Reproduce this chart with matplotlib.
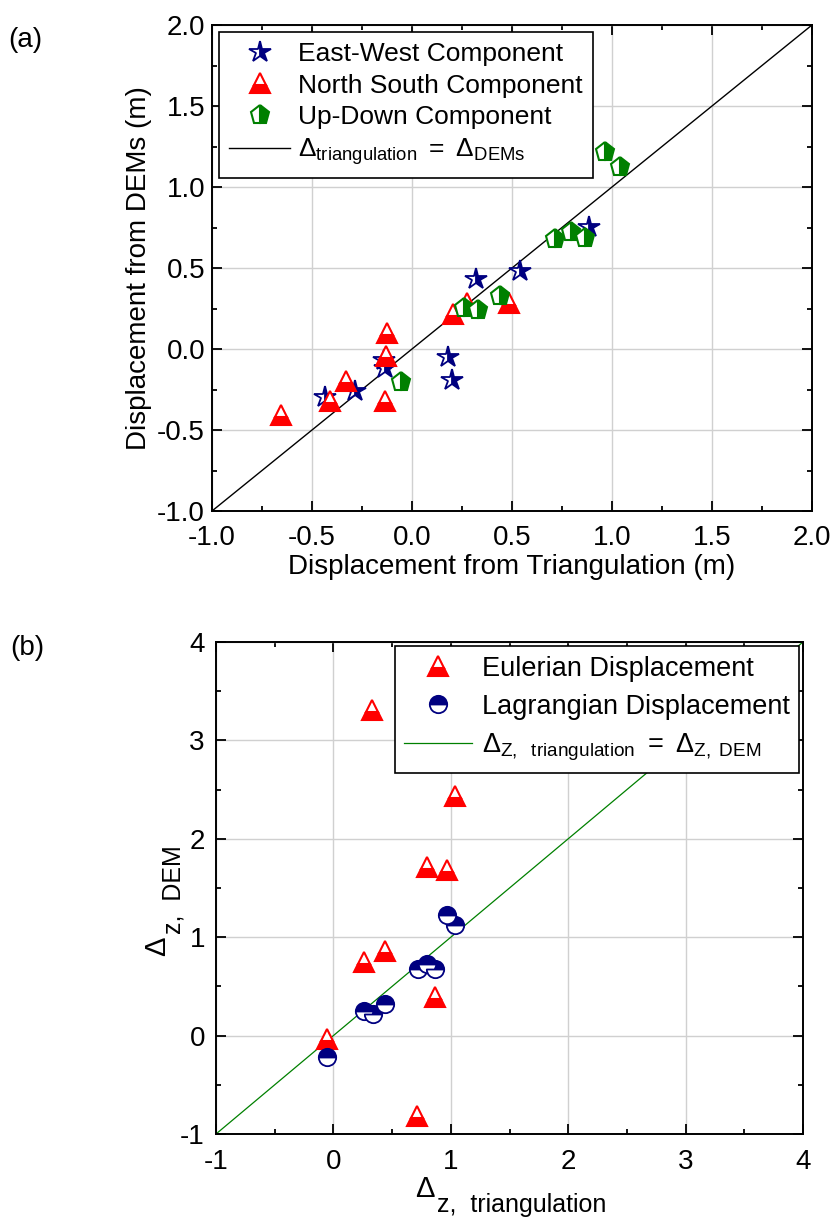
import numpy as np
import matplotlib
matplotlib.use("Agg")
import matplotlib.pyplot as plt
from matplotlib.ticker import MultipleLocator

plt.rcParams['font.family'] = ['Liberation Sans', 'DejaVu Sans']
plt.rcParams['mathtext.fontset'] = 'custom'
plt.rcParams['mathtext.rm'] = 'Liberation Sans'
plt.rcParams['mathtext.it'] = 'Liberation Sans:italic'
plt.rcParams['mathtext.bf'] = 'Liberation Sans:bold'
plt.rcParams['axes.unicode_minus'] = False

# panel (a) data
ew_x = [0.883, 0.542, 0.322, 0.178, 0.200, -0.133, -0.142, -0.284, -0.434]
ew_y = [0.753, 0.483, 0.432, -0.049, -0.190, -0.117, -0.066, -0.257, -0.296]

ns_x = [-0.125, -0.128, -0.328, -0.408, -0.655, -0.133, 0.205, 0.483, 0.275]
ns_y = [0.099, -0.041, -0.196, -0.319, -0.406, -0.319, 0.216, 0.284, 0.284]

ud_x = [0.967, 1.038, 0.717, 0.797, 0.867, 0.438, 0.258, 0.328, -0.055]
ud_y = [1.218, 1.123, 0.681, 0.720, 0.685, 0.325, 0.253, 0.238, -0.204]

# panel (b) data
eul_x = [0.327, 1.036, 0.800, 0.965, 0.440, 0.261, 0.866, -0.056, 0.715]
eul_y = [3.306, 2.440, 1.712, 1.678, 0.858, 0.753, 0.390, -0.030, -0.815]

lag_x = [0.965, 1.036, 0.723, 0.795, 0.866, 0.440, 0.261, 0.335, -0.051]
lag_y = [1.228, 1.119, 0.678, 0.729, 0.678, 0.322, 0.247, 0.221, -0.214]

W, H = 832, 1219
fig = plt.figure(figsize=(W / 100, H / 100), dpi=100)


def px(x, y):
    # pixel position (from top-left) -> figure fraction
    return x / W, 1 - y / H


def style_axes(ax, major, minor, xpad, ypad):
    ax.xaxis.set_major_locator(MultipleLocator(major))
    ax.yaxis.set_major_locator(MultipleLocator(major))
    ax.xaxis.set_minor_locator(MultipleLocator(minor))
    ax.yaxis.set_minor_locator(MultipleLocator(minor))
    ax.tick_params(which='both', direction='in', top=True, right=True,
                   labelsize=20, width=1.3)
    ax.tick_params(which='major', length=7)
    ax.tick_params(which='minor', length=3.5)
    ax.tick_params(axis='x', which='major', pad=xpad)
    ax.tick_params(axis='y', which='major', pad=ypad)
    ax.grid(True, which='major', color='#d0d0d0', linewidth=1.0)
    ax.set_axisbelow(True)
    for s in ax.spines.values():
        s.set_linewidth(1.4)


# ---- panel (a)
ax1 = fig.add_axes([212 / W, 1 - 511 / H, (812 - 212) / W, (511 - 25) / H])
ax1.plot([-1, 2], [-1, 2], color='black', lw=1.0,
         label=r'$\Delta_{\rm triangulation}\ =\ \Delta_{\rm DEMs}$', zorder=2)
h_ew, = ax1.plot(ew_x, ew_y, ls='none', marker='*', ms=16, color='navy',
                 mec='navy', mew=1.3, fillstyle='right',
                 markerfacecoloralt='white', label='East-West Component', zorder=3)
h_ns, = ax1.plot(ns_x, ns_y, ls='none', marker='^', ms=14, color='red',
                 mec='red', mew=1.5, fillstyle='bottom',
                 markerfacecoloralt='white', label='North South Component', zorder=3)
h_ud, = ax1.plot(ud_x, ud_y, ls='none', marker='p', ms=14, color='green',
                 mec='green', mew=1.5, fillstyle='right',
                 markerfacecoloralt='white', label='Up-Down Component', zorder=3)
ax1.set_xlim(-1, 2)
ax1.set_ylim(-1, 2)
style_axes(ax1, 0.5, 0.25, xpad=10, ypad=5)
ax1.xaxis.set_major_formatter(plt.FormatStrFormatter('%.1f'))
ax1.yaxis.set_major_formatter(plt.FormatStrFormatter('%.1f'))
ax1.set_xlabel('Displacement from Triangulation (m)', fontsize=20, labelpad=2)
ax1.set_ylabel('Displacement from DEMs (m)', fontsize=20, labelpad=4)
line_a = ax1.get_lines()[0]
leg1 = ax1.legend([h_ew, h_ns, h_ud, line_a],
                  [h.get_label() for h in (h_ew, h_ns, h_ud, line_a)],
                  loc='upper left', fontsize=19, frameon=True, fancybox=False,
                  edgecolor='black', framealpha=1, handlelength=2.3,
                  handletextpad=0.3, labelspacing=0.28, borderpad=0.4,
                  borderaxespad=0.25)
leg1.get_frame().set_linewidth(1.2)
fig.text(*px(8, 40), '(a)', fontsize=20, va='center', ha='left')

# ---- panel (b)
ax2 = fig.add_axes([216 / W, 1 - 1134 / H, (803 - 216) / W, (1134 - 642) / H])
ax2.plot([-1, 4], [-1, 4], color='green', lw=0.9,
         label=r'$\Delta_{\rm Z,\ \ triangulation}\ =\ \Delta_{\rm Z,\ DEM}$',
         zorder=2)
h_eu, = ax2.plot(eul_x, eul_y, ls='none', marker='^', ms=14, color='red',
                 mec='red', mew=1.5, fillstyle='bottom',
                 markerfacecoloralt='white', label='Eulerian Displacement', zorder=3)
h_lg, = ax2.plot(lag_x, lag_y, ls='none', marker='o', ms=12.5, color='navy',
                 mec='navy', mew=1.3, fillstyle='top',
                 markerfacecoloralt='white', label='Lagrangian Displacement', zorder=3)
ax2.set_xlim(-1, 4)
ax2.set_ylim(-1, 4)
style_axes(ax2, 1, 0.5, xpad=11, ypad=8)
line_b = ax2.get_lines()[0]
leg2 = ax2.legend([h_eu, h_lg, line_b],
                  [h.get_label() for h in (h_eu, h_lg, line_b)],
                  loc='upper right', fontsize=19.5, frameon=True, fancybox=False,
                  edgecolor='black', framealpha=1, handlelength=2.5,
                  handletextpad=0.35, labelspacing=0.45, borderpad=0.35,
                  borderaxespad=0.15)
leg2.get_frame().set_linewidth(1.2)
fig.text(*px(10, 648), '(b)', fontsize=20, va='center', ha='left')

# axis titles of panel (b): big delta with a deep, large subscript
fig.text(*px(415, 1197), '\u0394', fontsize=21, ha='left', va='baseline')
fig.text(*px(437, 1212), 'z,  triangulation', fontsize=18, ha='left',
         va='baseline')
fig.text(*px(165, 956), '\u0394', fontsize=21, rotation=90,
         rotation_mode='anchor', ha='left', va='baseline')
fig.text(*px(181, 934), 'z,  DEM', fontsize=18, rotation=90,
         rotation_mode='anchor', ha='left', va='baseline')

fig.savefig('out.png', dpi=100)
